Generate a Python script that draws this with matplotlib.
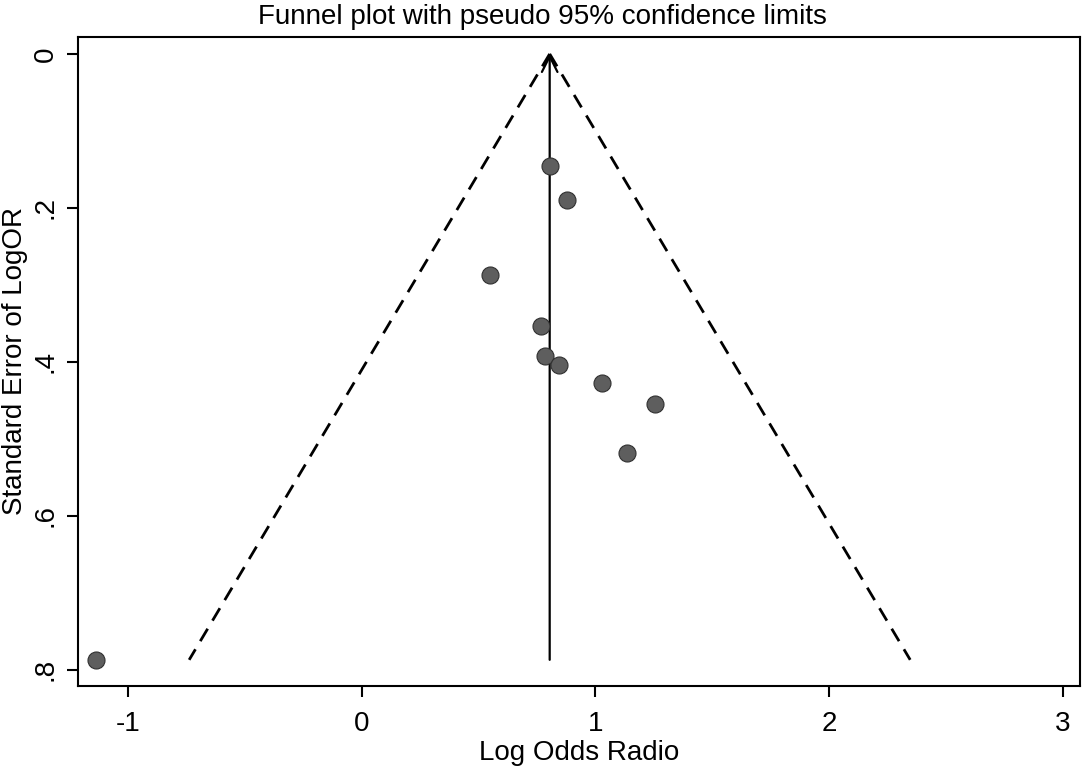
import matplotlib
matplotlib.use("Agg")
import matplotlib.pyplot as plt
import numpy as np

plt.rcParams["font.family"] = ["Liberation Sans", "DejaVu Sans"]

# study estimates
log_or = [0.807, 0.876, 0.548, 0.765, 0.786, 0.842, 1.026, 1.254, 1.135, -1.138]
se_log_or = [0.145, 0.190, 0.287, 0.354, 0.393, 0.404, 0.428, 0.455, 0.518, 0.787]
pooled = 0.804
x_ticks = [-1, 0, 1, 2, 3]
y_ticks = [0, 0.2, 0.4, 0.6, 0.8]
y_tick_labels = ["0", ".2", ".4", ".6", ".8"]

fig = plt.figure(figsize=(10.84, 7.67), dpi=100)
ax = fig.add_axes([0.072, 0.1056, 0.9243, 0.8462])

se_max = max(se_log_or)
se_line = np.array([0, se_max])
dash = (0, (5.2, 3.4))
ax.plot(pooled - 1.96 * se_line, se_line, color="black", lw=2.0, ls=dash)
ax.plot(pooled + 1.96 * se_line, se_line, color="black", lw=2.0, ls=dash)

ax.annotate("", xy=(pooled, 0), xytext=(pooled, se_max),
            arrowprops=dict(arrowstyle="->", color="black", lw=1.6,
                            mutation_scale=28, shrinkA=0, shrinkB=0))

ax.scatter(log_or, se_log_or, s=150, color="#5e5e5e", edgecolors="#303030",
           linewidths=0.8, zorder=3)

ax.set_xlim(-1.214, 3.073)
ax.set_ylim(0.821, -0.022)
ax.set_xticks(x_ticks)
ax.set_xticklabels([str(t) for t in x_ticks])
ax.set_yticks(y_ticks)
ax.set_yticklabels(y_tick_labels, rotation=90, va="center")

for sp in ["top", "right", "left", "bottom"]:
    ax.spines[sp].set_linewidth(1.5)
ax.tick_params(axis="x", length=8, width=1.5, labelsize=20, pad=10)
ax.tick_params(axis="y", length=8, width=1.5, labelsize=20, pad=6)

ax.set_xlabel("Log Odds Radio", fontsize=20, labelpad=2)
fig.text(15 / 1084, 1 - 361 / 767, "Standard Error of LogOR", fontsize=20,
         rotation=90, ha="center", va="center")
fig.suptitle("Funnel plot with pseudo 95% confidence limits", fontsize=20,
             x=0.5, y=0.995, va="top")

plt.savefig("out.png", dpi=100, facecolor="white")
